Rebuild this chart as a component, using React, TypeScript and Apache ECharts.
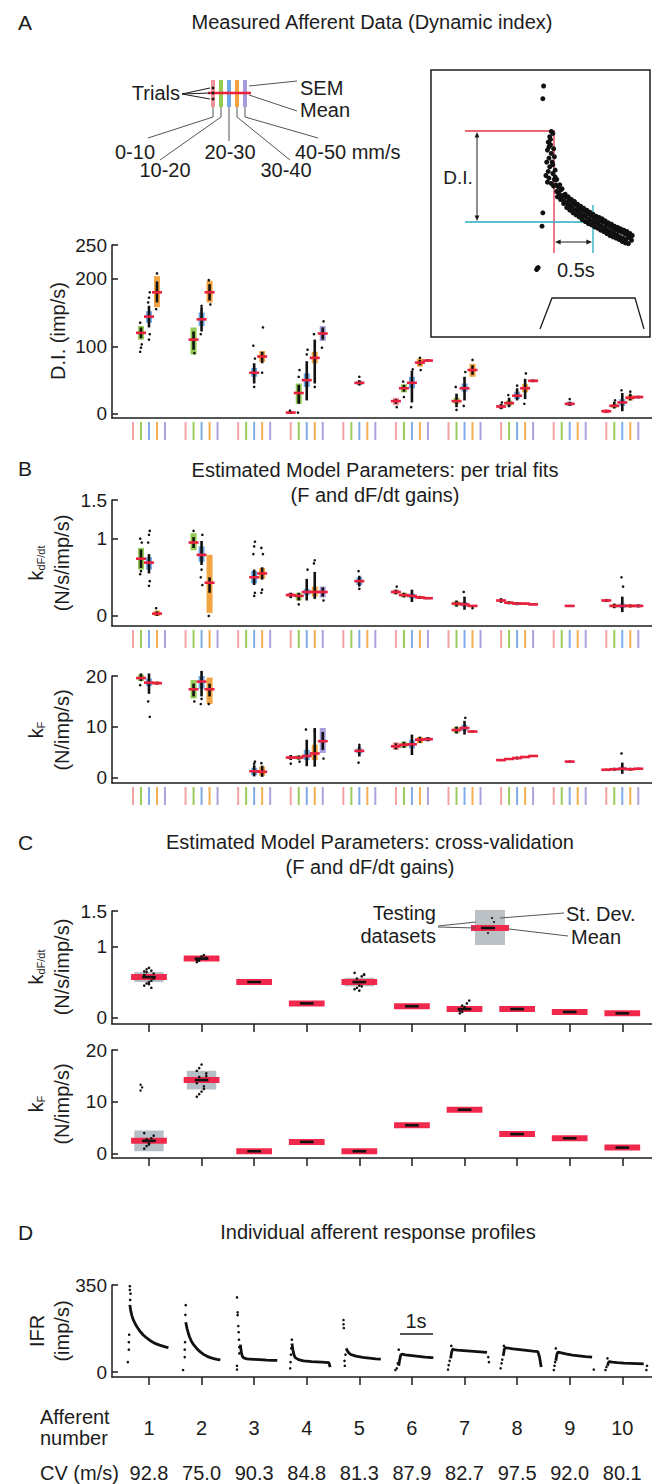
import React, { useEffect, useRef } from "react";
import * as echarts from "echarts";

const FONT = "'Liberation Sans', Arial, Helvetica, sans-serif";
const INK = "#1c1c1c";

// ---------- labels ----------
const AFFERENT_NUMBERS = ["1", "2", "3", "4", "5", "6", "7", "8", "9", "10"];
const CONDUCTION_VELOCITY = ["92.8", "75.0", "90.3", "84.8", "81.3", "87.9", "82.7", "97.5", "92.0", "80.1"];
const VELOCITY_BINS = ["0-10", "10-20", "20-30", "30-40", "40-50 mm/s"];
const DI_TICKS = [0, 100, 200, 250];
const KDFDT_TICKS = [0, 1, 1.5];
const KF_TICKS = [0, 10, 20];
const IFR_TICKS = [0, 350];

const BIN_COLORS = ["#f0888e", "#86c440", "#5f9de0", "#f29a2e", "#9c92d8"];
const BIN_TICK_COLORS = ["#f4a2a6", "#9acd5c", "#7eace6", "#f5ae52", "#aaa2de"];
const MEAN_RED = "#e8203e";

// ---------- Panel A: dynamic index (imp/s) ----------
// [afferent, velocity bin, mean, semLo, semHi, trialsLo, trialsHi]
const DI_CELLS = [
  [0, 1, 120, 110, 130, 112, 128], [0, 2, 144, 135, 152, 128, 160], [0, 3, 180, 158, 204, 165, 196],
  [1, 1, 110, 88, 128, 95, 122], [1, 2, 140, 130, 150, 122, 158], [1, 3, 180, 165, 197, 168, 192],
  [2, 2, 61, 55, 68, 45, 75], [2, 3, 85, 77, 93, 75, 92],
  [3, 0, 2, 0, 4, 0, 4], [3, 1, 31, 15, 45, 15, 43], [3, 2, 50, 40, 60, 20, 78], [3, 3, 83, 75, 92, 45, 110], [3, 4, 119, 108, 130, 110, 128],
  [4, 2, 46, 43, 49, 42, 50],
  [5, 0, 19, 13, 24, 15, 22], [5, 1, 38, 32, 44, 33, 43], [5, 2, 46, 38, 55, 17, 64], [5, 3, 76, 70, 82, 72, 80], [5, 4, 79, 77, 81, 78, 81],
  [6, 1, 19, 15, 24, 10, 30], [6, 2, 38, 33, 45, 20, 55], [6, 3, 65, 55, 74, 58, 72],
  [7, 0, 11, 8, 14, 7, 15], [7, 1, 16, 12, 20, 10, 24], [7, 2, 27, 22, 33, 20, 38], [7, 3, 38, 32, 44, 22, 52], [7, 4, 49, 47, 51, 47, 51],
  [8, 2, 15, 12, 18, 12, 18],
  [9, 0, 4, 1, 7, 2, 6], [9, 1, 12, 9, 15, 8, 18], [9, 2, 17, 12, 22, 4, 31], [9, 3, 24, 20, 28, 20, 30], [9, 4, 25, 23, 27, 23, 27],
];
// isolated trials [afferent, bin, value]
const DI_TRIALS = [
  [0, 1, 92], [0, 1, 98], [0, 1, 103], [0, 1, 135], [0, 2, 110], [0, 2, 118], [0, 2, 165], [0, 2, 172], [0, 2, 180],
  [0, 3, 155], [0, 3, 208], [1, 1, 90], [1, 2, 118], [1, 2, 160], [1, 3, 162], [1, 3, 198], [2, 2, 40], [2, 2, 82],
  [2, 2, 101], [2, 3, 61], [2, 3, 128], [3, 0, 5], [3, 1, 55], [3, 1, 65], [3, 1, 2], [3, 2, 88], [3, 2, 95],
  [3, 3, 118], [3, 3, 40], [3, 4, 137], [3, 4, 98], [4, 2, 55], [5, 0, 10], [5, 1, 48], [5, 1, 25], [5, 2, 66],
  [5, 2, 10], [5, 3, 83], [5, 3, 65], [6, 1, 40], [6, 1, 6], [6, 2, 62], [6, 2, 12], [6, 3, 80], [7, 0, 17],
  [7, 1, 28], [7, 2, 42], [7, 3, 60], [7, 3, 15], [8, 2, 22], [9, 1, 20], [9, 2, 35], [9, 3, 33],
];

// ---------- Panel B: per-trial fits ----------
const KDFDT_CELLS = [
  [0, 1, 0.74, 0.6, 0.88, 0.62, 0.86], [0, 2, 0.69, 0.6, 0.76, 0.55, 0.8], [0, 3, 0.03, 0, 0.07, 0, 0.06],
  [1, 1, 0.95, 0.85, 1.07, 0.88, 1.02], [1, 2, 0.79, 0.7, 0.9, 0.66, 0.97], [1, 3, 0.43, 0.04, 0.79, 0.3, 0.5],
  [2, 2, 0.5, 0.42, 0.58, 0.4, 0.6], [2, 3, 0.55, 0.48, 0.62, 0.47, 0.63],
  [3, 0, 0.27, 0.25, 0.3, 0.23, 0.3], [3, 1, 0.26, 0.2, 0.3, 0.2, 0.3], [3, 2, 0.31, 0.27, 0.35, 0.2, 0.48], [3, 3, 0.31, 0.25, 0.38, 0.22, 0.57], [3, 4, 0.31, 0.24, 0.38, 0.25, 0.37],
  [4, 2, 0.45, 0.4, 0.5, 0.38, 0.52],
  [5, 0, 0.31, 0.28, 0.34, 0.28, 0.34], [5, 1, 0.27, 0.24, 0.3, 0.24, 0.3], [5, 2, 0.26, 0.23, 0.29, 0.18, 0.34], [5, 3, 0.24, 0.22, 0.26, 0.22, 0.26], [5, 4, 0.23, 0.22, 0.24, 0.22, 0.24],
  [6, 1, 0.16, 0.13, 0.19, 0.12, 0.2], [6, 2, 0.15, 0.12, 0.18, 0.08, 0.25], [6, 3, 0.13, 0.12, 0.14, 0.12, 0.14],
  [7, 0, 0.2, 0.18, 0.22, 0.17, 0.23], [7, 1, 0.17, 0.15, 0.19, 0.15, 0.19], [7, 2, 0.16, 0.14, 0.18, 0.14, 0.18], [7, 3, 0.16, 0.15, 0.17, 0.15, 0.17], [7, 4, 0.15, 0.14, 0.16, 0.14, 0.16],
  [8, 2, 0.13, 0.12, 0.14, 0.12, 0.14],
  [9, 0, 0.2, 0.18, 0.22, 0.18, 0.22], [9, 1, 0.13, 0.11, 0.15, 0.1, 0.16], [9, 2, 0.13, 0.1, 0.16, 0.05, 0.25], [9, 3, 0.13, 0.11, 0.15, 0.11, 0.15], [9, 4, 0.13, 0.11, 0.15, 0.11, 0.15],
];
const KDFDT_TRIALS = [
  [0, 1, 0.54], [0, 1, 0.58], [0, 1, 0.95], [0, 1, 1.0], [0, 2, 0.39], [0, 2, 0.45], [0, 2, 0.95], [0, 2, 1.05], [0, 2, 1.1],
  [0, 3, 0.1], [1, 1, 1.1], [1, 2, 0.4], [1, 2, 0.5], [1, 2, 0.6], [1, 2, 1.05], [1, 3, 0.0], [2, 2, 0.26], [2, 2, 0.3],
  [2, 2, 0.8], [2, 2, 0.9], [2, 2, 0.96], [2, 3, 0.3], [2, 3, 0.34], [2, 3, 0.8], [2, 3, 0.88], [3, 1, 0.15], [3, 2, 0.6],
  [3, 3, 0.68], [3, 3, 0.72], [3, 4, 0.2], [4, 2, 0.58], [4, 2, 0.35], [5, 0, 0.38], [6, 2, 0.31], [6, 3, 0.1], [9, 2, 0.38], [9, 2, 0.5],
];
const KF_CELLS = [
  [0, 1, 19.6, 19.0, 20.3, 19.0, 20.5], [0, 2, 18.7, 18.0, 19.5, 16.5, 20.5], [0, 3, 18.6, 18.3, 18.9, 18.3, 18.9],
  [1, 1, 17.4, 15.6, 19.2, 16.0, 18.5], [1, 2, 18.9, 17.5, 20.0, 16.0, 21.0], [1, 3, 17.4, 14.5, 19.7, 16.0, 18.5],
  [2, 2, 1.3, 0.5, 2.0, 0.3, 2.5], [2, 3, 1.2, 0.4, 2.2, 0.2, 2.4],
  [3, 0, 4.0, 3.7, 4.3, 3.5, 4.5], [3, 1, 4.0, 3.6, 4.4, 3.6, 4.4], [3, 2, 4.3, 3.5, 5.5, 2.3, 7.5], [3, 3, 4.8, 3.5, 6.5, 2.2, 9.8], [3, 4, 7.2, 4.9, 9.8, 5.5, 9.0],
  [4, 2, 5.3, 4.8, 5.8, 4.2, 6.3],
  [5, 0, 6.2, 5.5, 7.0, 5.6, 6.8], [5, 1, 6.5, 5.9, 7.1, 5.9, 7.1], [5, 2, 6.6, 5.8, 7.4, 4.5, 8.5], [5, 3, 7.5, 6.8, 8.0, 6.9, 8.1], [5, 4, 7.6, 7.2, 8.0, 7.2, 8.0],
  [6, 1, 9.4, 8.8, 10.0, 8.7, 10.1], [6, 2, 9.8, 9.2, 10.4, 8.5, 11.2], [6, 3, 9.1, 8.9, 9.3, 8.9, 9.3],
  [7, 0, 3.5, 3.3, 3.7, 3.3, 3.7], [7, 1, 3.7, 3.5, 3.9, 3.5, 3.9], [7, 2, 3.9, 3.7, 4.1, 3.6, 4.2], [7, 3, 4.1, 3.9, 4.3, 3.9, 4.3], [7, 4, 4.3, 4.1, 4.5, 4.1, 4.5],
  [8, 2, 3.2, 3.0, 3.4, 3.0, 3.4],
  [9, 0, 1.6, 1.4, 1.8, 1.4, 1.8], [9, 1, 1.7, 1.5, 1.9, 1.4, 2.0], [9, 2, 1.8, 1.4, 2.2, 0.8, 3.0], [9, 3, 1.7, 1.5, 1.9, 1.4, 2.0], [9, 4, 1.8, 1.6, 2.0, 1.6, 2.0],
];
const KF_TRIALS = [
  [0, 1, 18.2], [0, 1, 20.8], [0, 2, 12.0], [0, 2, 15.0], [0, 2, 21.0], [1, 1, 15.0], [1, 2, 14.5], [1, 2, 15.5],
  [1, 2, 21.5], [1, 3, 14.5], [2, 2, 2.8], [2, 2, 3.2], [2, 3, 2.9], [3, 0, 2.8], [3, 1, 3.2], [3, 2, 9.5],
  [3, 3, 9.2], [3, 4, 3.8], [4, 2, 3.0], [4, 2, 6.5], [6, 2, 11.8], [9, 2, 4.8],
];

// ---------- Panel C: cross-validation ----------
const CV_KDFDT_MEAN = [0.57, 0.83, 0.5, 0.2, 0.5, 0.16, 0.12, 0.12, 0.08, 0.06];
const CV_KDFDT_SD = [0.07, 0.02, 0.01, 0.01, 0.06, 0.01, 0.02, 0.01, 0.01, 0.01];
const CV_KDFDT_TESTS = [
  [0.45, 0.48, 0.5, 0.52, 0.62, 0.65, 0.68, 0.7, 0.42, 0.55, 0.6, 0.64, 0.47, 0.66],
  [0.78, 0.8, 0.86, 0.88, 0.84, 0.81], [], [], [0.4, 0.42, 0.45, 0.58, 0.6, 0.63, 0.55, 0.38, 0.44, 0.61], [],
  [0.06, 0.08, 0.15, 0.2, 0.24, 0.1, 0.17], [], [], [],
];
const CV_KF_MEAN = [2.5, 14.2, 0.5, 2.3, 0.5, 5.5, 8.5, 3.8, 3.0, 1.2];
const CV_KF_SD = [2.0, 1.8, 0.1, 0.1, 0.1, 0.1, 0.1, 0.1, 0.1, 0.1];
const CV_KF_TESTS = [
  [1, 1.5, 2, 3, 3.5, 4, 2.8, 1.8], [11, 11.5, 12, 13, 15, 16, 16.5, 17.2, 12.5, 15.5, 13.6, 14.8], [], [], [], [], [], [], [], [],
];
const CV_KF_OUTLIERS = [[0, 12.2], [0, 12.8], [0, 13.3]];

// ---------- Panel D: response profiles [time s, IFR imp/s] ----------
const D_ONSET = [-0.58, -0.48, -0.42, -0.45, -0.4, -0.4, -0.42, -0.42, -0.42, -0.45];
const D_TRACES = [
  [[0, 270], [0.03, 245], [0.06, 228], [0.1, 212], [0.15, 198], [0.2, 185], [0.3, 165], [0.4, 150], [0.5, 138], [0.6, 128], [0.7, 120], [0.8, 113], [0.9, 108], [1.0, 104], [1.1, 100], [1.17, 98]],
  [[0, 200], [0.04, 175], [0.08, 155], [0.12, 140], [0.18, 122], [0.25, 108], [0.35, 92], [0.45, 80], [0.55, 70], [0.65, 63], [0.75, 58], [0.85, 54], [0.95, 51], [1.05, 49]],
  [[0, 110], [0.03, 80], [0.06, 64], [0.1, 57], [0.2, 53], [0.4, 51], [0.6, 50], [0.8, 48], [1.0, 47], [1.12, 47]],
  [[0, 115], [0.03, 90], [0.06, 70], [0.1, 58], [0.2, 50], [0.35, 45], [0.6, 42], [0.9, 40], [1.12, 38], [1.16, 20]],
  [[0, 95], [0.04, 85], [0.08, 77], [0.15, 70], [0.3, 64], [0.5, 59], [0.7, 56], [0.9, 53], [1.05, 52]],
  [[0, 25], [0.03, 50], [0.06, 68], [0.1, 72], [0.2, 69], [0.4, 66], [0.6, 63], [0.8, 60], [1.0, 58], [1.05, 58]],
  [[0, 55], [0.03, 80], [0.06, 92], [0.1, 90], [0.2, 88], [0.4, 86], [0.6, 84], [0.8, 82], [1.0, 80], [1.1, 79]],
  [[0, 65], [0.03, 90], [0.06, 98], [0.1, 97], [0.3, 93], [0.5, 90], [0.7, 87], [0.9, 84], [1.05, 82], [1.1, 60], [1.15, 20]],
  [[0, 45], [0.03, 70], [0.06, 80], [0.1, 79], [0.3, 73], [0.5, 68], [0.7, 65], [0.9, 62], [1.1, 60]],
  [[0, 25], [0.03, 38], [0.06, 42], [0.15, 40], [0.3, 38], [0.5, 36], [0.7, 35], [0.9, 34], [1.1, 33]],
];
const D_SPARSE = [
  [[-0.06, 40], [-0.03, 90], [-0.03, 120], [-0.02, 150], [0, 330], [0, 345], [0.02, 315], [0.01, 290]],
  [[-0.08, 8], [-0.03, 60], [-0.03, 90], [-0.02, 120], [-0.01, 230], [0, 269], [-0.02, 357]],
  [[-0.1, 300], [-0.08, 240], [-0.08, 229], [-0.06, 185], [-0.05, 160], [-0.04, 130], [-0.03, 100], [-0.03, 75], [-0.1, 25], [-0.1, 10]],
  [[-0.05, 15], [-0.04, 40], [-0.03, 70], [-0.02, 95], [0, 130]],
  [[-0.08, 209], [-0.08, 192], [-0.07, 177], [-0.05, 45], [-0.04, 25], [-0.02, 70]],
  [[-0.1, 8], [-0.06, 15], [-0.03, 35], [0, 90]],
  [[-0.08, 10], [-0.06, 28], [-0.03, 45], [0.02, 105], [1.14, 60], [1.16, 40]],
  [[-0.08, 15], [-0.05, 35], [-0.03, 50], [0.02, 105]],
  [[-0.06, 8], [-0.04, 25], [-0.02, 40], [0.0, 95], [1.15, 10]],
  [[-0.06, 8], [-0.03, 20], [0, 55], [1.18, 8], [1.2, 25]],
];

// ---------- inset: example response [time from ramp onset s, IFR] ----------
const INSET_SPIKES = [
  [-0.12, 376], [-0.13, 357], [-0.13, 186], [-0.14, 166], [-0.2, 103], [-0.21, 101], [-0.19, 104],
  [-0.02, 308], [0.0, 305], [-0.04, 300], [-0.03, 296], [-0.05, 285], [0.0, 258], [-0.02, 230], [0.01, 226], [0.03, 240],
  [-0.06, 292], [-0.03, 288], [-0.07, 280], [-0.02, 275], [-0.05, 268], [0.01, 282], [-0.08, 262], [-0.04, 255],
  [-0.06, 248], [-0.01, 262], [0.02, 270], [-0.09, 242], [-0.05, 238], [0.03, 250], [0.0, 245], [-0.07, 232], [0.02, 236],
  [0.04, 228], [0.05, 218], [0.07, 225], [0.08, 214], [0.1, 220], [0.11, 208], [0.13, 212], [0.15, 204], [0.17, 210],
  [0.19, 200], [0.21, 205], [0.23, 196], [0.25, 201], [0.27, 192], [0.29, 198], [0.31, 189], [0.33, 194], [0.35, 186],
  [0.37, 191], [0.39, 182], [0.41, 188], [0.43, 180], [0.45, 185], [0.47, 176], [0.49, 182], [0.51, 174], [0.53, 179],
  [0.55, 171], [0.57, 176], [0.59, 169], [0.61, 174], [0.63, 166], [0.65, 172], [0.67, 163], [0.69, 168], [0.71, 160],
  [0.73, 166], [0.75, 158], [0.77, 164], [0.79, 155], [0.81, 161], [0.83, 153], [0.85, 159], [0.87, 150], [0.89, 157],
  [0.91, 148], [0.93, 155], [0.95, 146], [0.97, 152], [0.99, 149],
  [0.05, 236], [0.06, 210], [0.09, 228], [0.1, 206], [0.12, 222], [0.14, 200], [0.16, 214], [0.18, 194], [0.2, 210],
  [0.22, 190], [0.24, 206], [0.26, 186], [0.28, 203], [0.3, 183], [0.32, 199], [0.34, 180], [0.36, 196], [0.38, 176],
  [0.4, 193], [0.42, 173], [0.44, 190], [0.46, 170], [0.48, 187], [0.5, 168], [0.52, 184], [0.54, 165], [0.56, 181],
  [0.58, 163], [0.6, 179], [0.62, 160], [0.64, 177], [0.66, 158], [0.68, 174], [0.7, 155], [0.72, 171], [0.74, 152],
  [0.76, 169], [0.78, 150], [0.8, 166], [0.82, 148], [0.84, 164], [0.86, 146], [0.88, 162], [0.9, 143], [0.92, 160],
  [0.94, 141], [0.96, 158], [0.98, 140], [1.0, 155], [1.02, 145], [1.03, 152],
];

// ---------- layout helpers ----------
const SLOT_MIN = -0.703;
const SLOT_MAX = 9.565;
const BIN_STEP = 8 / 52.6;
const SLOT_PER_SEC = 33 / 52.6;
const binX = (g: number, b: number) => g + (b - 2) * BIN_STEP;
const jitter = (i: number) => ((i % 3) - 1) * 0.025;

const txt = (text: string, x: number, y: number, o: any = {}) => ({
  type: "text",
  x,
  y,
  rotation: o.rotation || 0,
  silent: true,
  style: {
    text,
    fill: o.color || INK,
    fontSize: o.size || 20,
    fontFamily: FONT,
    textAlign: o.align || "center",
    textVerticalAlign: "middle",
    align: o.align || "center",
    verticalAlign: "middle",
    rich: o.rich,
  },
});
const seg = (pts: number[][], color = INK, width = 1) => ({
  type: "polyline",
  silent: true,
  shape: { points: pts },
  style: { stroke: color, lineWidth: width, fill: "none" },
});
const arrowHead = (x: number, y: number, dir: string) => {
  const s = 4;
  let pts: number[][] = [];
  if (dir === "up") pts = [[x, y], [x - s * 0.6, y + s * 1.4], [x + s * 0.6, y + s * 1.4]];
  if (dir === "down") pts = [[x, y], [x - s * 0.6, y - s * 1.4], [x + s * 0.6, y - s * 1.4]];
  if (dir === "left") pts = [[x, y], [x + s * 1.4, y - s * 0.6], [x + s * 1.4, y + s * 0.6]];
  if (dir === "right") pts = [[x, y], [x - s * 1.4, y - s * 0.6], [x - s * 1.4, y + s * 0.6]];
  return { type: "polygon", silent: true, shape: { points: pts }, style: { fill: INK } };
};

function cellRender(params: any, api: any) {
  const x = api.value(0);
  const mean = api.value(1);
  const bin = api.value(6);
  const pm = api.coord([x, mean]);
  const lo = api.coord([x, api.value(2)]);
  const hi = api.coord([x, api.value(3)]);
  const slo = api.coord([x, api.value(4)]);
  const shi = api.coord([x, api.value(5)]);
  return {
    type: "group",
    children: [
      { type: "rect", shape: { x: pm[0] - 3, y: hi[1], width: 6, height: Math.max(2, lo[1] - hi[1]) }, style: { fill: BIN_COLORS[bin], opacity: 0.9 } },
      { type: "rect", shape: { x: pm[0] - 1.3, y: shi[1], width: 2.6, height: Math.max(1.5, slo[1] - shi[1]) }, style: { fill: "#111" } },
      { type: "rect", shape: { x: pm[0] - 5, y: pm[1] - 1.3, width: 10, height: 2.6 }, style: { fill: MEAN_RED } },
    ],
  };
}
function tickRender(params: any, api: any) {
  const p = api.coord([api.value(0), api.value(1)]);
  return {
    type: "line",
    shape: { x1: p[0], y1: p[1] + 4, x2: p[0], y2: p[1] + 22 },
    style: { stroke: BIN_TICK_COLORS[api.value(2)], lineWidth: 2 },
  };
}
function cvRender(params: any, api: any) {
  const g = api.value(0);
  const mean = api.value(1);
  const sd = api.value(2);
  const pl = api.coord([g - 0.34, mean]);
  const pr = api.coord([g + 0.34, mean]);
  const bl = api.coord([g - 0.28, mean + sd]);
  const br = api.coord([g + 0.28, mean - sd]);
  const cl = api.coord([g - 0.13, mean]);
  const cr = api.coord([g + 0.13, mean]);
  const children: any[] = [];
  if (br[1] - bl[1] > 8) {
    children.push({ type: "rect", shape: { x: bl[0], y: bl[1], width: br[0] - bl[0], height: br[1] - bl[1] }, style: { fill: "#aab4bc", opacity: 0.85 } });
  }
  children.push({ type: "rect", shape: { x: pl[0], y: pl[1] - 3, width: pr[0] - pl[0], height: 6 }, style: { fill: "#f0284c" } });
  children.push({ type: "rect", shape: { x: cl[0], y: cl[1] - 1.3, width: cr[0] - cl[0], height: 2.6 }, style: { fill: "#111" } });
  return { type: "group", children };
}

const DOT_STYLE = { color: "#111", opacity: 1 };

const buildPanel = (gi: number, cells: number[][], trials: number[][], yMin: number) => {
  const ticks: number[][] = [];
  for (let g = 0; g < 10; g++) for (let b = 0; b < 5; b++) ticks.push([binX(g, b), yMin, b]);
  return [
    {
      type: "custom", xAxisIndex: gi, yAxisIndex: gi, renderItem: tickRender, clip: false, silent: true,
      data: ticks, encode: { x: 0, y: 1 },
    },
    {
      type: "custom", xAxisIndex: gi, yAxisIndex: gi, renderItem: cellRender, silent: true,
      data: cells.map((c) => [binX(c[0], c[1]), c[2], c[3], c[4], c[5], c[6], c[1]]), encode: { x: 0, y: 1 },
    },
    {
      type: "scatter", xAxisIndex: gi, yAxisIndex: gi, symbolSize: 2.6, silent: true, itemStyle: DOT_STYLE,
      data: trials.map((t, i) => [binX(t[0], t[1]) + jitter(i) * 0.6, t[2]]),
    },
  ];
};

const GRIDS = [
  { left: 112, top: 245, width: 540, height: 173 },
  { left: 112, top: 500, width: 540, height: 126 },
  { left: 112, top: 676, width: 540, height: 107 },
  { left: 112, top: 911, width: 540, height: 113 },
  { left: 112, top: 1050, width: 540, height: 108 },
  { left: 112, top: 1285, width: 540, height: 92 },
  { left: 431, top: 70, width: 219, height: 267 },
].map((g) => ({ ...g, containLabel: false, outerBoundsMode: "none" }));
const Y_RANGES = [
  [-6, 250, DI_TICKS], [-0.13, 1.5, KDFDT_TICKS], [-1, 20, KF_TICKS],
  [-0.09, 1.5, KDFDT_TICKS], [-0.8, 20, KF_TICKS], [-20, 350, IFR_TICKS],
];

export default function App() {
  const ref = useRef<HTMLDivElement>(null);
  useEffect(() => {
    document.body.style.margin = "0";
    if (!ref.current) return;
    const chart = echarts.init(ref.current, null, { renderer: "svg" });
    const axisLineStyle = { color: INK, width: 1.5 };
    const centers = AFFERENT_NUMBERS.map((_, i) => i);

    const xAxis: any[] = GRIDS.slice(0, 6).map((_, i) => ({
      type: "value", gridIndex: i, min: SLOT_MIN, max: SLOT_MAX,
      axisLine: { show: true, onZero: false, lineStyle: axisLineStyle },
      axisTick: i >= 3 ? { show: true, customValues: centers, length: 8, inside: false, lineStyle: axisLineStyle } : { show: false },
      axisLabel: { show: false },
      splitLine: { show: false },
    }));
    xAxis.push({ type: "value", gridIndex: 6, min: -1.58, max: 1.26, show: false });
    // label rows under panel D: afferent number and conduction velocity
    const labelRow = (names: string[], margin: number) => ({
      type: "value", gridIndex: 5, min: SLOT_MIN, max: SLOT_MAX, position: "bottom",
      axisLine: { show: false }, axisTick: { show: false }, splitLine: { show: false },
      axisLabel: {
        show: true, customValues: centers, margin, fontSize: 20, fontFamily: FONT, color: INK,
        formatter: (v: number) => names[Math.round(v)],
      },
    });
    xAxis.push(labelRow(AFFERENT_NUMBERS, 41));
    xAxis.push(labelRow(CONDUCTION_VELOCITY, 86));

    const yAxis: any[] = Y_RANGES.map((r, i) => ({
      type: "value", gridIndex: i, min: r[0], max: r[1],
      axisLine: { show: true, onZero: false, lineStyle: axisLineStyle },
      axisTick: { show: true, inside: true, length: 6, customValues: r[2], lineStyle: axisLineStyle },
      axisLabel: { show: true, customValues: r[2], fontSize: 19, fontFamily: FONT, color: INK, margin: 5 },
      splitLine: { show: false },
    }));
    yAxis.push({ type: "value", gridIndex: 6, min: 0, max: 400, show: false });

    const series: any[] = [
      ...buildPanel(0, DI_CELLS, DI_TRIALS, -6),
      ...buildPanel(1, KDFDT_CELLS, KDFDT_TRIALS, -0.13),
      ...buildPanel(2, KF_CELLS, KF_TRIALS, -1),
    ];
    // Panel C
    const cvPanel = (gi: number, means: number[], sds: number[], tests: number[][]) => {
      series.push({
        type: "custom", xAxisIndex: gi, yAxisIndex: gi, renderItem: cvRender, silent: true,
        data: means.map((m, g) => [g, m, sds[g]]), encode: { x: 0, y: 1 },
      });
      const dots: number[][] = [];
      tests.forEach((vals, g) => vals.forEach((v, i) => dots.push([g + ((i % 5) - 2) * 0.045, v])));
      series.push({ type: "scatter", xAxisIndex: gi, yAxisIndex: gi, symbolSize: 2.6, silent: true, itemStyle: DOT_STYLE, data: dots });
    };
    cvPanel(3, CV_KDFDT_MEAN, CV_KDFDT_SD, CV_KDFDT_TESTS);
    cvPanel(4, CV_KF_MEAN, CV_KF_SD, CV_KF_TESTS);
    series.push({
      type: "scatter", xAxisIndex: 4, yAxisIndex: 4, symbolSize: 2.4, silent: true, itemStyle: DOT_STYLE,
      data: CV_KF_OUTLIERS.map((o, i) => [o[0] - 0.16 + (i % 2) * 0.03, o[1]]),
    });
    // Panel D
    D_TRACES.forEach((trace, g) => {
      series.push({
        type: "line", xAxisIndex: 5, yAxisIndex: 5, showSymbol: false, silent: true,
        lineStyle: { color: "#111", width: 2.8 },
        data: trace.map((p) => [g + (D_ONSET[g] + p[0]) * SLOT_PER_SEC, p[1]]),
      });
    });
    const sparse: number[][] = [];
    D_SPARSE.forEach((pts, g) => pts.forEach((p) => sparse.push([g + (D_ONSET[g] + p[0]) * SLOT_PER_SEC, p[1]])));
    series.push({ type: "scatter", xAxisIndex: 5, yAxisIndex: 5, symbolSize: 2.6, silent: true, itemStyle: DOT_STYLE, data: sparse });
    // inset
    series.push({ type: "scatter", xAxisIndex: 6, yAxisIndex: 6, symbolSize: 5, silent: true, itemStyle: DOT_STYLE, data: INSET_SPIKES });

    const subRich = {
      k: { fontSize: 20, fontFamily: FONT, fill: INK, color: INK },
      s: { fontSize: 11, fontFamily: FONT, fill: INK, color: INK, padding: [9, 0, 0, 0] },
    };

    const legendBarX = [213, 221, 229, 237, 245];
    const graphic: any[] = [
      // panel letters and titles
      txt("A", 18, 22, { size: 21, align: "left" }),
      txt("B", 18, 468, { size: 21, align: "left" }),
      txt("C", 18, 842, { size: 21, align: "left" }),
      txt("D", 18, 1232, { size: 21, align: "left" }),
      txt("Measured Afferent Data (Dynamic index)", 372, 22),
      txt("Estimated Model Parameters: per trial fits", 375, 470),
      txt("(F and dF/dt gains)", 375, 495),
      txt("Estimated Model Parameters: cross-validation", 370, 842),
      txt("(F and dF/dt gains)", 370, 867),
      txt("Individual afferent response profiles", 378, 1232),
      // axis names
      txt("D.I. (imp/s)", 58, 331, { rotation: Math.PI / 2 }),
      txt("{k|k}{s|dF/dt}", 36, 563, { rotation: Math.PI / 2, rich: subRich }),
      txt("(N/s/imp/s)", 62, 563, { rotation: Math.PI / 2 }),
      txt("{k|k}{s|F}", 36, 730, { rotation: Math.PI / 2, rich: subRich }),
      txt("(N/imp/s)", 62, 730, { rotation: Math.PI / 2 }),
      txt("{k|k}{s|dF/dt}", 36, 967, { rotation: Math.PI / 2, rich: subRich }),
      txt("(N/s/imp/s)", 62, 967, { rotation: Math.PI / 2 }),
      txt("{k|k}{s|F}", 36, 1104, { rotation: Math.PI / 2, rich: subRich }),
      txt("(N/imp/s)", 62, 1104, { rotation: Math.PI / 2 }),
      txt("IFR", 37, 1331, { rotation: Math.PI / 2 }),
      txt("(imp/s)", 62, 1331, { rotation: Math.PI / 2 }),
      // bottom row headers
      txt("Afferent", 40, 1417, { align: "left" }),
      txt("number", 40, 1438, { align: "left" }),
      txt("CV (m/s)", 40, 1473, { align: "left" }),
      // 1 s scale bar
      seg([[400, 1334], [433, 1334]], INK, 1.5),
      txt("1s", 416, 1321),
    ];
    // Panel A legend schematic
    legendBarX.forEach((x, b) => {
      graphic.push({ type: "rect", silent: true, shape: { x: x - 2, y: 80, width: 4, height: 27 }, style: { fill: BIN_COLORS[b], opacity: 0.9 } });
    });
    graphic.push(seg([[208, 93], [251, 93]], MEAN_RED, 2.5));
    [88, 93, 99].forEach((y) => graphic.push({ type: "circle", silent: true, shape: { cx: 213, cy: y, r: 1.5 }, style: { fill: INK } }));
    graphic.push(txt("Trials", 180, 93, { align: "right" }));
    [88, 93, 99].forEach((y) => graphic.push(seg([[182, 94], [210, y]], INK, 1)));
    graphic.push(seg([[249, 86], [297, 81]], "#555", 1));
    graphic.push(seg([[249, 95], [297, 111]], "#555", 1));
    graphic.push(txt("SEM", 300, 88, { align: "left" }));
    graphic.push(txt("Mean", 300, 110, { align: "left" }));
    graphic.push(seg([[213, 107], [213, 117], [148, 138]], "#555", 1));
    graphic.push(seg([[221, 107], [221, 117], [160, 160]], "#555", 1));
    graphic.push(seg([[229, 107], [229, 141]], "#555", 1));
    graphic.push(seg([[237, 107], [237, 117], [290, 160]], "#555", 1));
    graphic.push(seg([[245, 107], [245, 117], [318, 138]], "#555", 1));
    graphic.push(txt(VELOCITY_BINS[0], 135, 152));
    graphic.push(txt(VELOCITY_BINS[1], 165, 170));
    graphic.push(txt(VELOCITY_BINS[2], 230, 152));
    graphic.push(txt(VELOCITY_BINS[3], 286, 170));
    graphic.push(txt(VELOCITY_BINS[4], 295, 152, { align: "left" }));
    // inset frame and annotations
    graphic.push({ type: "rect", silent: true, shape: { x: 431, y: 70, width: 219, height: 267 }, style: { fill: "none", stroke: INK, lineWidth: 1.5 } });
    graphic.push(seg([[465, 131], [555, 131]], "#e8304a", 1.3));
    graphic.push(seg([[554, 131], [554, 253]], "#e8304a", 1.3));
    graphic.push(seg([[465, 222], [597, 222]], "#27aebe", 1.3));
    graphic.push(seg([[593, 205], [593, 253]], "#27aebe", 1.3));
    graphic.push(seg([[477, 134], [477, 219]], INK, 1));
    graphic.push(arrowHead(477, 132, "up"));
    graphic.push(arrowHead(477, 221, "down"));
    graphic.push(txt("D.I.", 458, 177, { size: 19 }));
    graphic.push(seg([[557, 242], [590, 242]], INK, 1));
    graphic.push(arrowHead(555, 242, "left"));
    graphic.push(arrowHead(592, 242, "right"));
    graphic.push(txt("0.5s", 557, 270, { align: "left" }));
    graphic.push(seg([[540, 329], [552, 298], [635, 298], [644, 329]], INK, 1.3));
    // panel C legend
    graphic.push({ type: "rect", silent: true, shape: { x: 475, y: 910, width: 30, height: 35 }, style: { fill: "#b0b6bb", opacity: 0.85 } });
    graphic.push({ type: "rect", silent: true, shape: { x: 471, y: 925, width: 38, height: 6 }, style: { fill: "#f0284c" } });
    graphic.push({ type: "rect", silent: true, shape: { x: 481, y: 926.7, width: 14, height: 2.6 }, style: { fill: "#111" } });
    [[492, 918], [488, 933], [494, 922]].forEach((p) => graphic.push({ type: "circle", silent: true, shape: { cx: p[0], cy: p[1], r: 1.1 }, style: { fill: INK } }));
    graphic.push(txt("Testing", 436, 913, { align: "right" }));
    graphic.push(txt("datasets", 436, 936, { align: "right" }));
    graphic.push(seg([[438, 926], [476, 922]], "#555", 1));
    graphic.push(seg([[438, 927], [476, 928]], "#555", 1));
    graphic.push(seg([[500, 918], [564, 913]], "#555", 1));
    graphic.push(seg([[509, 929], [568, 936]], "#555", 1));
    graphic.push(txt("St. Dev.", 566, 914, { align: "left" }));
    graphic.push(txt("Mean", 571, 937, { align: "left" }));

    chart.setOption({
      animation: false,
      backgroundColor: "#ffffff",
      textStyle: { fontFamily: FONT },
      grid: GRIDS,
      xAxis,
      yAxis,
      series,
      graphic,
    });
    return () => chart.dispose();
  }, []);
  return <div ref={ref} style={{ width: 652, height: 1484 }} />;
}
